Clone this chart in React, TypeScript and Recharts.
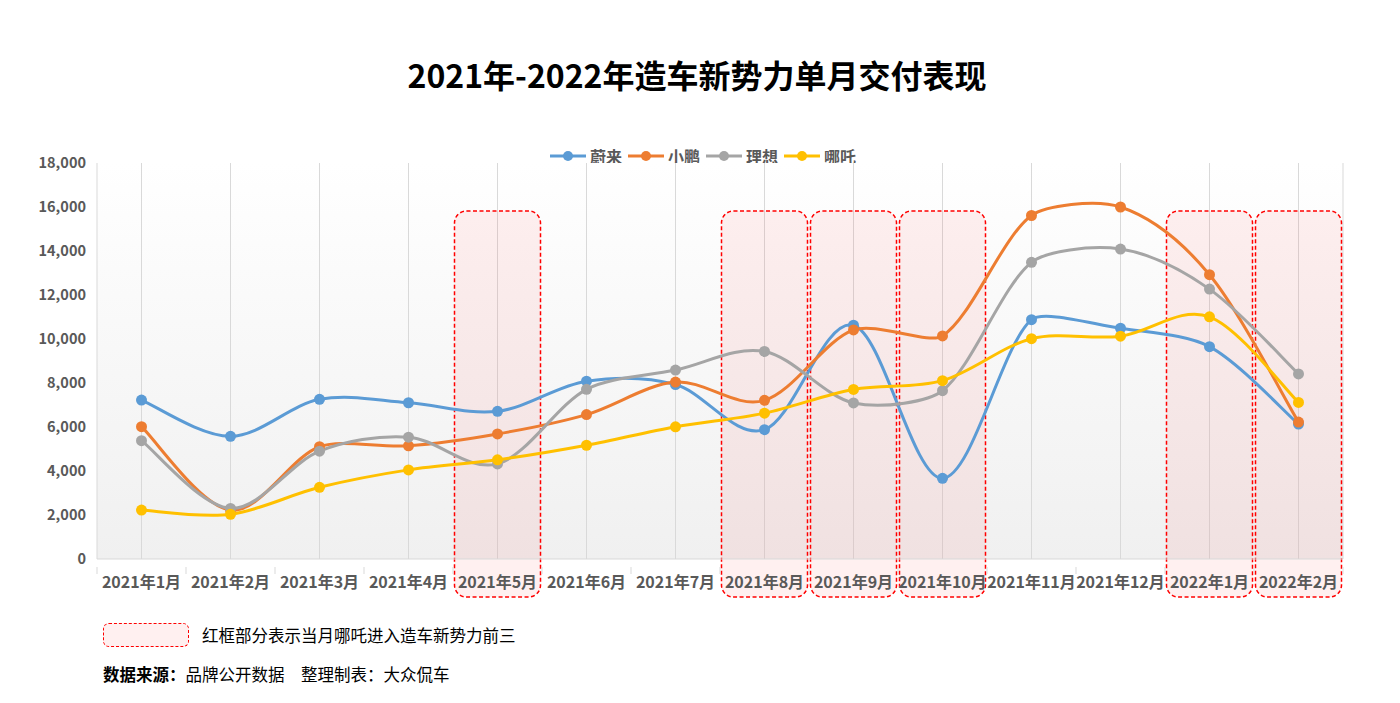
import React from 'react';
import { LineChart, Line, XAxis, YAxis, CartesianGrid, ReferenceArea } from 'recharts';

// 月份
const months = [
  '2021年1月', '2021年2月', '2021年3月', '2021年4月', '2021年5月', '2021年6月', '2021年7月',
  '2021年8月', '2021年9月', '2021年10月', '2021年11月', '2021年12月', '2022年1月', '2022年2月',
];

// 各品牌单月交付量
const nio = [7225, 5578, 7257, 7102, 6711, 8083, 7931, 5880, 10628, 3667, 10878, 10489, 9652, 6131];
const xpeng = [6015, 2223, 5102, 5147, 5686, 6565, 8040, 7214, 10412, 10138, 15613, 16000, 12922, 6225];
const liAuto = [5379, 2300, 4900, 5539, 4323, 7713, 8589, 9433, 7094, 7649, 13485, 14087, 12268, 8414];
const neta = [2224, 2034, 3258, 4051, 4508, 5170, 6010, 6629, 7709, 8107, 10013, 10127, 11009, 7117];

// 哪吒进入前三的月份
const highlightMonths = ['2021年5月', '2021年8月', '2021年9月', '2021年10月', '2022年1月', '2022年2月'];

const yTicks = [0, 2000, 4000, 6000, 8000, 10000, 12000, 14000, 16000, 18000];

const series = [
  { key: 'nio', name: '蔚来', color: '#5B9BD5' },
  { key: 'xpeng', name: '小鹏', color: '#ED7D31' },
  { key: 'li', name: '理想', color: '#A5A5A5' },
  { key: 'neta', name: '哪吒', color: '#FFC000' },
];

const data = months.map((m, i) => ({
  month: m,
  nio: nio[i],
  xpeng: xpeng[i],
  li: liAuto[i],
  neta: neta[i],
}));

const FONT = '"Noto Sans CJK SC", "Noto Sans", sans-serif';

// Excel 风格平滑曲线：控制点 1/6，段长较短时收紧
const Y_STRETCH = 5;
const dist = (a: number[], b: number[]) => Math.hypot(b[0] - a[0], (b[1] - a[1]) * Y_STRETCH);

const excelCurve = (context: any) => {
  let pts: number[][] = [];
  return {
    areaStart() {},
    areaEnd() {},
    lineStart() {
      pts = [];
    },
    point(x: number, y: number) {
      pts.push([+x, +y]);
    },
    lineEnd() {
      if (!pts.length) return;
      context.moveTo(pts[0][0], pts[0][1]);
      for (let i = 0; i < pts.length - 1; i++) {
        const p0 = pts[i - 1] || pts[i];
        const p1 = pts[i];
        const p2 = pts[i + 1];
        const p3 = pts[i + 2] || p2;
        const d12 = dist(p1, p2);
        const d02 = dist(p0, p2);
        const d13 = dist(p1, p3);
        const f = d02 > 0 ? Math.min(1 / 6, d12 / 2 / d02) : 1 / 6;
        const g = d13 > 0 ? Math.min(1 / 6, d12 / 2 / d13) : 1 / 6;
        context.bezierCurveTo(
          p1[0] + (p2[0] - p0[0]) * f,
          p1[1] + (p2[1] - p0[1]) * f,
          p2[0] - (p3[0] - p1[0]) * g,
          p2[1] - (p3[1] - p1[1]) * g,
          p2[0],
          p2[1]
        );
      }
    },
  };
};

// 红色虚线圆角框
const DashedBox = (props: any) => {
  const { x, y, width, height } = props;
  if (x == null || width == null) return null;
  return (
    <rect
      x={x + 1.5}
      y={y}
      width={Math.max(width - 3, 0)}
      height={height}
      rx={12}
      ry={12}
      fill="#ff0000"
      fillOpacity={0.06}
      stroke="#ff0000"
      strokeWidth={1.5}
      strokeDasharray="4 2.5"
    />
  );
};

const XTick = (props: any) => {
  const { x, y, payload, index, visibleTicksCount } = props;
  const half = payload && payload.offset ? payload.offset : 44.5;
  return (
    <g>
      <line x1={x - half} y1={y} x2={x - half} y2={y + 7} stroke="#d9d9d9" />
      {index === visibleTicksCount - 1 && (
        <line x1={x + half} y1={y} x2={x + half} y2={y + 7} stroke="#d9d9d9" />
      )}
      <text
        x={x}
        y={y + 21}
        textAnchor="middle"
        fill="#595959"
        fontSize={16}
        fontWeight="bold"
        fontFamily={FONT}
      >
        {payload.value}
      </text>
    </g>
  );
};

const App: React.FC = () => {
  return (
    <div style={{ position: 'fixed', left: 0, top: 0, width: 1400, height: 703, background: '#fff', fontFamily: FONT }}>
      <div
        style={{
          position: 'absolute',
          top: 53,
          left: 0,
          width: 1394,
          textAlign: 'center',
          fontSize: 32,
          fontWeight: 'bold',
          color: '#000',
          lineHeight: '42px',
        }}
      >
        2021年-2022年造车新势力单月交付表现
      </div>

      {/* 图例 */}
      <div
        style={{
          position: 'absolute',
          top: 144,
          left: 0,
          width: 1406,
          display: 'flex',
          justifyContent: 'center',
          gap: 6,
          fontSize: 16,
          fontWeight: 'bold',
          color: '#595959',
          lineHeight: '24px',
        }}
      >
        {series.map((s) => (
          <div key={s.key} style={{ display: 'flex', alignItems: 'center' }}>
            <svg width={36} height={12} style={{ marginRight: 4 }}>
              <line x1={0} y1={6} x2={36} y2={6} stroke={s.color} strokeWidth={3} />
              <circle cx={18} cy={6} r={5} fill={s.color} />
            </svg>
            <span>{s.name}</span>
          </div>
        ))}
      </div>

      <div style={{ position: 'absolute', left: 0, top: 0 }}>
        <LineChart width={1400} height={703} data={data} margin={{ top: 163, right: 57, bottom: 114, left: 37 }}>
          <defs>
            <linearGradient id="plotBg" x1="0" y1="0" x2="0" y2="1">
              <stop offset="0%" stopColor="#ffffff" />
              <stop offset="100%" stopColor="#f0f0f0" />
            </linearGradient>
          </defs>
          <CartesianGrid horizontal={false} stroke="#d9d9d9" fill="url(#plotBg)" />
          <XAxis
            dataKey="month"
            scale="band"
            interval={0}
            height={30}
            axisLine={{ stroke: '#d9d9d9' }}
            tickLine={false}
            tick={<XTick />}
          />
          <YAxis
            domain={[0, 18000]}
            ticks={yTicks}
            width={60}
            axisLine={false}
            tickLine={false}
            tickSize={0}
            tickMargin={11}
            tickFormatter={(v: number) => v.toLocaleString('en-US')}
            tick={{ fill: '#595959', fontSize: 14.5, fontWeight: 'bold', fontFamily: FONT }}
          />
          {highlightMonths.map((m) => (
            <ReferenceArea
              key={m}
              x1={m}
              x2={m}
              y1={-1730}
              y2={15820}
              ifOverflow="visible"
              shape={<DashedBox />}
            />
          ))}
          {series.map((s) => (
            <Line
              key={s.key}
              dataKey={s.key}
              name={s.name}
              type={excelCurve as any}
              stroke={s.color}
              strokeWidth={3}
              dot={{ r: 5.5, fill: s.color, stroke: 'none' }}
              activeDot={false}
              isAnimationActive={false}
            />
          ))}
        </LineChart>
      </div>

      {/* 注释 */}
      <div style={{ position: 'absolute', left: 103, top: 623, display: 'flex', alignItems: 'center' }}>
        <div
          style={{
            width: 84,
            height: 22,
            border: '1.5px dashed #ff0000',
            borderRadius: 6,
            background: 'rgba(255,0,0,0.06)',
          }}
        />
        <span style={{ marginLeft: 13, fontSize: 16.5, color: '#000' }}>红框部分表示当月哪吒进入造车新势力前三</span>
      </div>
      <div style={{ position: 'absolute', left: 103, top: 662, fontSize: 16.5, color: '#000' }}>
        <b>数据来源：</b>品牌公开数据　整理制表：大众侃车
      </div>
    </div>
  );
};

export default App;
